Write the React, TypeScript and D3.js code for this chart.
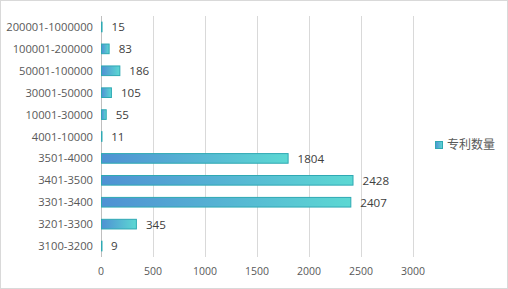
import React from 'react';
import * as d3 from 'd3';

const categories = ['200001-1000000', '100001-200000', '50001-100000', '30001-50000', '10001-30000', '4001-10000', '3501-4000', '3401-3500', '3301-3400', '3201-3300', '3100-3200'];
const patents = [15, 83, 186, 105, 55, 11, 1804, 2428, 2407, 345, 9];
const ticks = [0, 500, 1000, 1500, 2000, 2500, 3000];
const seriesName = '专利数量';

const width = 508;
const height = 289;
const margin = { top: 16, left: 101, right: 95, bottom: 32 };
const font = '"Open Sans", sans-serif';

export default function App() {
  const x = d3.scaleLinear().domain([0, 3000]).range([margin.left, width - margin.right]);
  const y = d3.scaleBand().domain(categories).range([margin.top, height - margin.bottom]).paddingInner(0.56).paddingOuter(0.28);
  const bottom = height - margin.bottom;

  return (
    <svg width={width} height={height} style={{ position: 'absolute', left: 0, top: 0 }}>
      <defs>
        <linearGradient id="barGrad" x1="0" x2="1" y1="0" y2="0">
          <stop offset="0" stopColor="#4f91d3" />
          <stop offset="1" stopColor="#5cd8d3" />
        </linearGradient>
      </defs>
      <rect x={0.5} y={0.5} width={width - 1} height={height - 1} fill="white" stroke="#d9d9d9" />
      {ticks.map(t => (
        <g key={t}>
          <line x1={Math.round(x(t)) + 0.5} x2={Math.round(x(t)) + 0.5} y1={margin.top} y2={bottom} stroke={t === 0 ? '#bfbfbf' : '#d9d9d9'} />
          <text x={x(t)} y={bottom + 18} textAnchor="middle" fontSize={10.5} fill="#595959" fontFamily={font}>{t}</text>
        </g>
      ))}
      {categories.map((c, i) => {
        const y0 = y(c)!;
        const w = x(patents[i]) - x(0);
        return (
          <g key={c}>
            <text x={93} y={y0 + y.bandwidth() / 2} dy="0.36em" textAnchor="end" fontSize={11.2} fill="#595959" fontFamily={font}>{c}</text>
            <rect x={x(0) + 0.5} y={y0} width={Math.max(w - 1, 0.5)} height={y.bandwidth()} fill="url(#barGrad)" stroke="#2fa9b3" strokeWidth={1} />
            <text x={x(patents[i]) + 9} y={y0 + y.bandwidth() / 2} dy="0.38em" fontSize={11.6} fill="#404040" fontFamily={font}>{patents[i]}</text>
          </g>
        );
      })}
      <rect x={435.5} y={141.5} width={7} height={7} fill="url(#barGrad)" stroke="#2fa9b3" />
      <text x={447} y={145} dy="0.35em" fontSize={12} fill="#595959" fontFamily={'"Noto Sans CJK SC", sans-serif'}>{seriesName}</text>
    </svg>
  );
}
